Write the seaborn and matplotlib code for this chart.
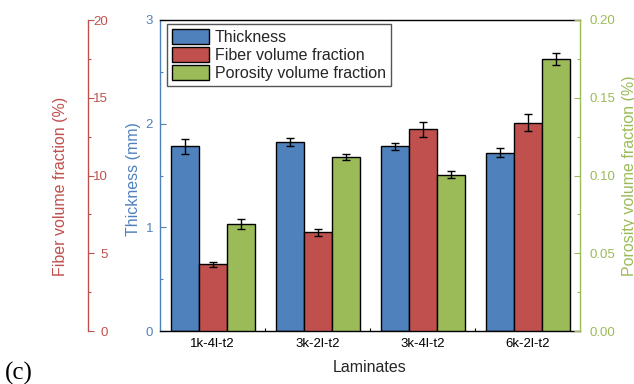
import numpy as np
import pandas as pd
import matplotlib
matplotlib.use("Agg")
import matplotlib.pyplot as plt
import seaborn as sns
from matplotlib.ticker import MultipleLocator
from matplotlib.patches import Patch

laminates = ["1k-4l-t2", "3k-2l-t2", "3k-4l-t2", "6k-2l-t2"]
series = ["Thickness", "Fiber volume fraction", "Porosity volume fraction"]
thickness = [1.78, 1.82, 1.78, 1.72]
thickness_err = [0.07, 0.037, 0.037, 0.043]
fiber = [4.29, 6.35, 12.97, 13.40]
fiber_err = [0.15, 0.22, 0.47, 0.57]
porosity = [0.0686, 0.1119, 0.1005, 0.175]
porosity_err = [0.0032, 0.0021, 0.0023, 0.004]

colors = ["#4F81BD", "#C0504D", "#9BBB59"]

sns.set_theme(style="white")
plt.rcParams["font.family"] = ["Liberation Sans", "DejaVu Sans"]

rows = []
for s, vals, errs in [(series[0], thickness, thickness_err),
                      (series[1], fiber, fiber_err),
                      (series[2], porosity, porosity_err)]:
    for lam, v, e in zip(laminates, vals, errs):
        rows.append({"laminate": lam, "series": s, "value": v, "err": e})
df = pd.DataFrame(rows)

fig = plt.figure(figsize=(6.34, 3.84), dpi=100)
ax1 = fig.add_axes([160/634, 53/384, 420/634, 311/384])
ax2 = ax1.twinx()
ax3 = ax1.twinx()

axes = [ax1, ax2, ax3]
for ax, s in zip(axes, series):
    sub = df[df.series == s]
    sns.barplot(data=sub, x="laminate", y="value", hue="series", hue_order=series,
                order=laminates, palette=colors, dodge=True, width=0.8,
                errorbar=None, edgecolor="black", linewidth=1, legend=False,
                saturation=1, ax=ax, zorder=2)
    patches = sorted([p for p in ax.patches], key=lambda p: p.get_x())
    xs = [p.get_x() + p.get_width() / 2 for p in patches]
    ax.errorbar(xs, sub["value"].values, yerr=sub["err"].values, fmt="none",
                ecolor="black", elinewidth=1, capsize=3, capthick=1, zorder=3)
    ax.set_xlabel("")
    ax.set_ylabel("")

ax1.set_ylim(0, 3)
ax2.set_ylim(0, 20)
ax3.set_ylim(0, 0.20)
ax1.set_xlim(-0.5, 3.5)

tick_fs = 9.5
lab_fs = 11.5

# Thickness axis (inner left)
ax1.yaxis.set_major_locator(MultipleLocator(1))
ax1.yaxis.set_minor_locator(MultipleLocator(0.5))
ax1.tick_params(axis="y", which="both", direction="in", colors=colors[0],
                labelsize=tick_fs, pad=5, left=True, right=False)
ax1.tick_params(axis="y", which="major", length=4, width=0.8)
ax1.tick_params(axis="y", which="minor", length=2.5, width=0.8)
ax1.spines["left"].set_color(colors[0])
ax1.spines["right"].set_visible(False)
ax1.spines["top"].set_color("black")
ax1.spines["bottom"].set_color("black")
for sp in ax1.spines.values():
    sp.set_linewidth(1)
ax1.set_ylabel("Thickness (mm)", color=colors[0], fontsize=lab_fs)
ax1.yaxis.set_label_coords(-0.046, 0.49)

# x axis
ax1.set_xticks(range(len(laminates)))
ax1.set_xticklabels(laminates)
ax1.set_xticks([0.5, 1.5, 2.5], minor=True)
ax1.tick_params(axis="x", which="both", direction="in", colors="black",
                labelsize=tick_fs, bottom=True, pad=5)
ax1.tick_params(axis="x", which="major", length=4, width=0.8)
ax1.tick_params(axis="x", which="minor", length=2, width=0.8)
ax1.set_xlabel("Laminates", fontsize=lab_fs, labelpad=7)

# Fiber axis (outer left)
ax2.spines["left"].set_position(("outward", 72 * 72 / 100))
ax2.spines["left"].set_visible(True)
ax2.spines["left"].set_color(colors[1])
ax2.spines["left"].set_linewidth(1)
for k in ["right", "top", "bottom"]:
    ax2.spines[k].set_visible(False)
ax2.yaxis.set_ticks_position("left")
ax2.yaxis.set_major_locator(MultipleLocator(5))
ax2.yaxis.set_minor_locator(MultipleLocator(2.5))
ax2.tick_params(axis="y", which="both", direction="in", colors=colors[1],
                labelsize=tick_fs, pad=-14.5, left=True, right=False,
                labelleft=True, labelright=False)
ax2.tick_params(axis="y", which="major", length=4, width=0.8)
ax2.tick_params(axis="y", which="minor", length=2.5, width=0.8)
ax2.yaxis.set_label_position("left")
ax2.set_ylabel("Fiber volume fraction (%)", color=colors[1], fontsize=lab_fs)
ax2.yaxis.set_label_coords(-0.219, 0.465)
ax2.tick_params(axis="x", which="both", bottom=False, top=False,
                labelbottom=False)

# Porosity axis (right)
for k in ["left", "top", "bottom"]:
    ax3.spines[k].set_visible(False)
ax3.spines["right"].set_color(colors[2])
ax3.spines["right"].set_linewidth(1)
ax3.yaxis.set_major_locator(MultipleLocator(0.05))
ax3.yaxis.set_minor_locator(MultipleLocator(0.025))
ax3.yaxis.set_major_formatter(matplotlib.ticker.FormatStrFormatter("%.2f"))
ax3.tick_params(axis="y", which="both", direction="in", colors=colors[2],
                labelsize=tick_fs, pad=7, right=True, left=False)
ax3.tick_params(axis="y", which="major", length=4, width=0.8)
ax3.tick_params(axis="y", which="minor", length=2.5, width=0.8)
ax3.set_ylabel("Porosity volume fraction (%)", color=colors[2], fontsize=lab_fs)
ax3.yaxis.set_label_coords(1.1, 0.5)
ax3.tick_params(axis="x", which="both", bottom=False, top=False,
                labelbottom=False)

for ax in [ax2, ax3]:
    ax.patch.set_visible(False)

handles = [Patch(facecolor=c, edgecolor="black", linewidth=1, label=s)
           for c, s in zip(colors, series)]
leg = ax3.legend(handles=handles, loc="upper left",
                 bbox_to_anchor=(7/420, 1 - 4/311), borderaxespad=0,
                 fontsize=lab_fs, frameon=True, fancybox=False,
                 edgecolor="#555555", framealpha=1, handlelength=2.35,
                 handleheight=1.1, handletextpad=0.35, labelspacing=0.12,
                 borderpad=0.3)
leg.get_frame().set_linewidth(1)

fig.text(0.008, 0.012, "(c)", fontsize=18,
         family=["Liberation Serif", "DejaVu Serif"], color="black")

fig.savefig("out.png", dpi=100)
